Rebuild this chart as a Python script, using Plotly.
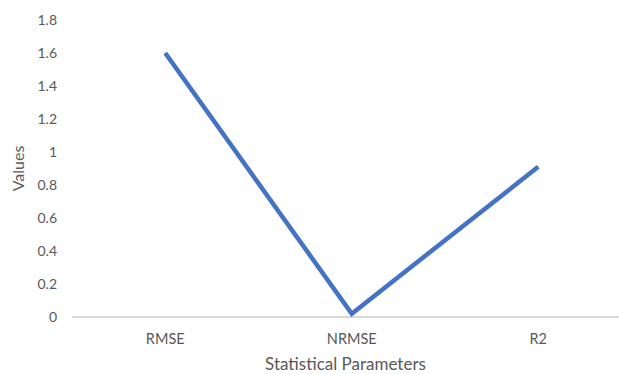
import plotly.graph_objects as go

# Statistical parameters of the model and their values
parameters = ["RMSE", "NRMSE", "R2"]
values = [1.6, 0.02, 0.91]

y_ticks = [0, 0.2, 0.4, 0.6, 0.8, 1.0, 1.2, 1.4, 1.6, 1.8]
y_tick_text = ["0", "0.2", "0.4", "0.6", "0.8", "1", "1.2", "1.4", "1.6", "1.8"]

font_family = "Lato, 'Open Sans', sans-serif"
text_color = "#595959"

fig = go.Figure(
    go.Scatter(
        x=parameters,
        y=values,
        mode="lines",
        line=dict(color="#4472C4", width=4.5),
        hoverinfo="x+y",
    )
)

fig.update_layout(
    width=619,
    height=374,
    margin=dict(l=72, r=0, t=20, b=57),
    paper_bgcolor="white",
    plot_bgcolor="white",
    showlegend=False,
    font=dict(family=font_family, color=text_color, size=14),
)

fig.update_xaxes(
    type="category",
    range=[-0.5, 2.433],
    showgrid=False,
    zeroline=False,
    showline=False,
    ticks="",
    tickfont=dict(size=14.5, color=text_color),
    ticklabelstandoff=11,
    title=dict(text="Statistical Parameters", font=dict(size=17, color=text_color), standoff=16),
)

fig.update_yaxes(
    range=[0, 1.8],
    tickvals=y_ticks,
    ticktext=y_tick_text,
    showgrid=False,
    zeroline=True,
    zerolinecolor="#D9D9D9",
    zerolinewidth=1.5,
    showline=False,
    ticks="",
    tickfont=dict(size=14, color=text_color),
    ticklabelstandoff=14,
    title=dict(text="Values", font=dict(size=16, color=text_color), standoff=8),
)

fig.write_html("out.html")
